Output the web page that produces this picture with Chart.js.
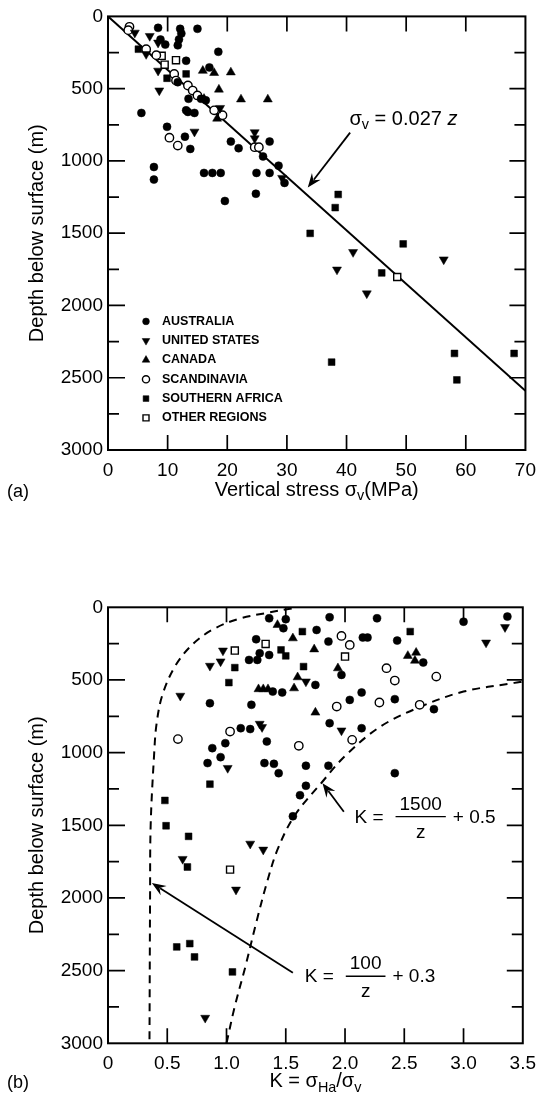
<!DOCTYPE html>
<html>
<head>
<meta charset="utf-8">
<script src="https://cdn.jsdelivr.net/npm/chart.js@4.4.0/dist/chart.umd.min.js"></script>
<style>
  html, body { margin: 0; padding: 0; background: #fff; }
  #page { position: relative; width: 545px; height: 1114px; overflow: hidden; }
  canvas { position: absolute; left: 0; }
  #chartA { top: 0; }
  #chartB { top: 557px; }
</style>
</head>
<body>
<div id="page">
  <canvas id="chartA" width="545" height="557" style="width:545px;height:557px"></canvas>
  <canvas id="chartB" width="545" height="557" style="width:545px;height:557px"></canvas>
</div>
<script>
const FONT = "'Liberation Sans', Arial, Helvetica, sans-serif";

// ---------- (a) vertical stress vs depth ----------
const stressTicks = [0, 10, 20, 30, 40, 50, 60, 70];
const depthTicks = [0, 500, 1000, 1500, 2000, 2500, 3000];
const depthTickLabels = ['0', '500', '1000', '1500', '2000', '2500', '3000'];

// [sigma_v (MPa), depth (m)]
const australiaA = [
  [8.4, 79], [12.1, 86], [15.0, 86], [12.3, 118], [11.9, 159], [11.7, 200],
  [8.8, 160], [9.6, 195], [18.5, 245], [13.1, 307], [17.0, 353], [11.7, 455],
  [13.5, 570], [15.6, 570], [16.4, 581], [5.6, 668], [13.1, 650], [13.4, 661],
  [14.5, 668], [9.9, 764], [12.9, 832], [13.8, 917], [20.6, 866], [21.9, 912],
  [7.7, 1042], [7.7, 1129], [16.1, 1083], [17.5, 1083], [18.9, 1083], [19.6, 1277],
  [27.1, 866], [26.0, 969], [28.6, 1033], [29.6, 1152], [24.9, 1083], [27.1, 1083], [24.8, 1227]
];
const usA = [
  [4.5, 113], [7.0, 136], [8.4, 182], [6.4, 261], [8.4, 376], [8.6, 513],
  [14.5, 798], [18.8, 634], [24.6, 802], [24.6, 844], [29.2, 1118],
  [41.1, 1631], [38.4, 1752], [43.4, 1917], [56.3, 1682]
];
const canadaA = [
  [15.9, 376], [17.8, 391], [20.6, 387], [18.6, 506], [22.3, 574], [26.8, 574],
  [18.3, 707], [16.1, 570]
];
const scandinaviaA = [
  [3.6, 72], [3.4, 95], [6.4, 227], [8.1, 268], [11.1, 398], [11.4, 444],
  [13.4, 478], [14.2, 513], [15.0, 547], [17.8, 650], [19.2, 684],
  [10.3, 839], [11.7, 894], [24.6, 905], [25.3, 905]
];
const safricaA = [
  [5.1, 227], [9.9, 428], [13.1, 398], [38.6, 1232], [38.1, 1323], [33.9, 1501],
  [49.5, 1574], [45.9, 1775], [58.1, 2332], [68.1, 2332], [58.5, 2515], [37.5, 2392]
];
const otherA = [[9.0, 273], [9.5, 334], [11.4, 303], [48.5, 1803]];

// sigma_v = 0.027 z, end points
const trendStress = [0, 70];
const trendDepth = [0, 2590];

// ---------- (b) K ratio vs depth ----------
const kTicks = [0, 0.5, 1, 1.5, 2, 2.5, 3, 3.5];
const kTickLabels = ['0', '0.5', '1.0', '1.5', '2.0', '2.5', '3.0', '3.5'];

// [K, depth (m)]
const australiaB = [
  [1.36, 76], [1.50, 82], [1.48, 144], [1.25, 220], [1.28, 316], [1.36, 328],
  [1.19, 362], [1.26, 362], [1.39, 580], [1.47, 586], [0.86, 660], [1.21, 671],
  [1.12, 832], [1.20, 838], [1.34, 923], [0.99, 935], [0.88, 969], [0.95, 1031],
  [0.84, 1072], [1.32, 1072], [1.40, 1077], [1.44, 1141], [1.62, 1293], [1.56, 1438],
  [1.87, 69], [2.27, 76], [3.0, 99], [3.37, 64], [1.76, 156], [1.86, 236],
  [2.15, 208], [2.19, 208], [2.44, 229], [1.75, 534], [1.97, 465], [2.14, 586],
  [2.04, 637], [2.42, 632], [2.66, 380], [2.75, 701], [1.87, 797], [2.14, 832],
  [1.67, 1090], [1.86, 1090], [2.42, 1141], [1.67, 1228]
];
const usB = [
  [0.97, 298], [0.95, 373], [0.86, 403], [0.61, 609], [1.28, 802], [1.30, 825],
  [1.01, 1106], [3.35, 137], [3.19, 243], [1.67, 511], [1.97, 848], [0.63, 1732],
  [1.08, 1943], [1.20, 1627], [1.31, 1668], [0.82, 2825]
];
const canadaB = [
  [1.43, 121], [1.56, 213], [1.27, 563], [1.31, 563], [1.35, 563], [1.60, 481],
  [1.57, 557], [1.74, 289], [1.94, 419], [1.75, 724], [2.53, 334], [2.60, 312], [2.59, 367]
];
const scandinaviaB = [
  [0.59, 907], [1.03, 855], [1.61, 953], [1.97, 197], [2.04, 259], [2.35, 419],
  [2.42, 504], [2.77, 477], [1.93, 683], [2.29, 655], [2.63, 671], [2.06, 912]
];
const safricaB = [
  [1.07, 415], [1.02, 518], [1.46, 293], [1.50, 334], [0.86, 1217], [0.48, 1329],
  [1.64, 167], [1.65, 408], [2.55, 167], [0.49, 1503], [0.68, 1576], [0.67, 1787],
  [0.58, 2337], [0.69, 2314], [0.73, 2406], [1.05, 2509]
];
const otherB = [[1.07, 298], [1.33, 252], [2.0, 339], [1.03, 1805]];

// dashed bounds
const lowBoundK = [1.55, 1.33, 1.10, 0.89, 0.72, 0.57, 0.46, 0.41, 0.39, 0.36, 0.355, 0.35];
const lowBoundZ = [8, 40, 80, 150, 250, 400, 600, 800, 1000, 1500, 2000, 3000];
const highBoundK = [1.0, 1.07, 1.16, 1.25, 1.34, 1.43, 1.57, 1.80, 2.01, 2.30, 2.64, 3.0, 3.43, 3.5];
const highBoundZ = [3000, 2745, 2470, 2172, 1897, 1668, 1439, 1209, 1015, 820, 683, 580, 520, 512];

// marker look for each region
const regions = [
  { name: 'AUSTRALIA', style: 'circle', rot: 0, r: 4, hollow: false },
  { name: 'UNITED STATES', style: 'triangle', rot: 180, r: 5.2, hollow: false },
  { name: 'CANADA', style: 'triangle', rot: 0, r: 5.2, hollow: false },
  { name: 'SCANDINAVIA', style: 'circle', rot: 0, r: 4.2, hollow: true },
  { name: 'SOUTHERN AFRICA', style: 'rect', rot: 0, r: 4.8, hollow: false },
  { name: 'OTHER REGIONS', style: 'rect', rot: 0, r: 5, hollow: true }
];

const toXY = pairs => pairs.map(p => ({ x: p[0], y: p[1] }));
const zipXY = (xs, ys) => xs.map((x, i) => ({ x: x, y: ys[i] }));

function pointSet(reg, pairs) {
  return {
    label: reg.name,
    data: toXY(pairs),
    showLine: false,
    pointStyle: reg.style,
    rotation: reg.rot,
    pointRadius: reg.r,
    pointHoverRadius: reg.r,
    pointBackgroundColor: reg.hollow ? '#fff' : '#000',
    pointBorderColor: '#000',
    pointBorderWidth: reg.hollow ? 1.4 : 0.5,
    order: 0
  };
}

function lineSet(data, dash) {
  return {
    data: data,
    showLine: true,
    borderColor: '#000',
    borderWidth: 2,
    borderDash: dash || [],
    pointRadius: 0,
    tension: dash ? 0.35 : 0,
    fill: false,
    order: 5
  };
}

// ---- drawing helpers ----
function richText(ctx, x, y, parts, size, align) {
  const fontOf = p => (p[1] === 'it' ? 'italic ' : '') + (p[1] === 'sub' ? size * 0.72 : size) + 'px ' + FONT;
  let w = 0;
  parts.forEach(p => { ctx.font = fontOf(p); w += ctx.measureText(p[0]).width; });
  let cx = align === 'center' ? x - w / 2 : x;
  ctx.textAlign = 'left';
  ctx.textBaseline = 'alphabetic';
  parts.forEach(p => {
    ctx.font = fontOf(p);
    ctx.fillText(p[0], cx, p[1] === 'sub' ? y + size * 0.22 : y);
    cx += ctx.measureText(p[0]).width;
  });
}

function arrow(ctx, x0, y0, x1, y1) {
  const a = Math.atan2(y1 - y0, x1 - x0);
  const L = 14, W = 5.5;
  const c = Math.cos(a), s = Math.sin(a);
  ctx.lineWidth = 1.8;
  ctx.beginPath();
  ctx.moveTo(x0, y0);
  ctx.lineTo(x1 - L * 0.7 * c, y1 - L * 0.7 * s);
  ctx.stroke();
  ctx.beginPath();
  ctx.moveTo(x1, y1);
  ctx.lineTo(x1 - L * c + W * s, y1 - L * s - W * c);
  ctx.lineTo(x1 - L * 0.65 * c, y1 - L * 0.65 * s);
  ctx.lineTo(x1 - L * c - W * s, y1 - L * s + W * c);
  ctx.closePath();
  ctx.fill();
}

function fraction(ctx, x, y, num, tail, size) {
  ctx.font = size + 'px ' + FONT;
  ctx.textBaseline = 'alphabetic';
  ctx.textAlign = 'left';
  ctx.fillText('K =', x, y);
  const bx = x + ctx.measureText('K =').width + 12;
  const bw = ctx.measureText(num).width + 8;
  ctx.textAlign = 'center';
  ctx.fillText(num, bx + bw / 2, y - 13);
  ctx.fillText('z', bx + bw / 2, y + 15);
  ctx.lineWidth = 1.3;
  ctx.beginPath();
  ctx.moveTo(bx, y - 6);
  ctx.lineTo(bx + bw, y - 6);
  ctx.stroke();
  ctx.textAlign = 'left';
  ctx.fillText(tail, bx + bw + 7, y);
}

// frame with inward ticks, titles and annotations
const paper = {
  id: 'paper',
  afterDraw(chart, args, o) {
    const { ctx, chartArea: a, scales } = chart;
    const sx = scales.x, sy = scales.y;
    ctx.save();
    ctx.fillStyle = '#000';
    ctx.strokeStyle = '#000';

    ctx.lineWidth = 2;
    ctx.strokeRect(a.left, a.top, a.right - a.left, a.bottom - a.top);

    ctx.lineWidth = 1.7;
    ctx.beginPath();
    o.xTicks.forEach(v => {
      const px = sx.getPixelForValue(v);
      if (px < a.left + 2 || px > a.right - 2) return;
      ctx.moveTo(px, a.bottom); ctx.lineTo(px, a.bottom - 15);
      ctx.moveTo(px, a.top); ctx.lineTo(px, a.top + 15);
    });
    const yMarks = [];
    o.yTicks.forEach((v, i) => {
      yMarks.push([v, 17, 16]);
      if (i < o.yTicks.length - 1) yMarks.push([(v + o.yTicks[i + 1]) / 2, 11, 11]);
    });
    yMarks.forEach(m => {
      const py = sy.getPixelForValue(m[0]);
      if (py < a.top + 2 || py > a.bottom - 2) return;
      ctx.moveTo(a.left, py); ctx.lineTo(a.left + m[1], py);
      ctx.moveTo(a.right, py); ctx.lineTo(a.right - m[2], py);
    });
    ctx.stroke();

    ctx.save();
    ctx.translate(37, (a.top + a.bottom) / 2);
    ctx.rotate(-Math.PI / 2);
    ctx.font = '20px ' + FONT;
    ctx.textAlign = 'center';
    ctx.textBaseline = 'middle';
    ctx.fillText('Depth below surface (m)', 0, 0);
    ctx.restore();
    richText(ctx, (a.left + a.right) / 2, a.bottom + o.titleDy, o.xTitle, 20, 'center');
    ctx.font = '18px ' + FONT;
    ctx.textAlign = 'left';
    ctx.textBaseline = 'alphabetic';
    ctx.fillText(o.panel, 7, a.bottom + o.titleDy + 1);

    if (o.draw) o.draw(ctx, a, sx, sy);
    ctx.restore();
  }
};

function baseOptions(xMax, xTicks, xLabels, padTop, axisH, extra) {
  return {
    responsive: false,
    animation: false,
    events: [],
    layout: { padding: { left: 0, right: 19, top: padTop, bottom: 0 } },
    plugins: { legend: { display: false }, tooltip: { enabled: false }, paper: extra },
    scales: {
      x: {
        type: 'linear', min: 0, max: xMax,
        afterBuildTicks: s => { s.ticks = xTicks.map(v => ({ value: v })); },
        afterFit: s => { s.height = axisH; },
        grid: { display: false, drawTicks: false },
        border: { display: false },
        ticks: {
          padding: 9, color: '#000', maxRotation: 0, autoSkip: false,
          font: { family: FONT, size: 19 },
          callback: (v, i) => xLabels[i]
        }
      },
      y: {
        type: 'linear', min: 0, max: 3000, reverse: true,
        afterBuildTicks: s => { s.ticks = depthTicks.map(v => ({ value: v })); },
        afterFit: s => { s.width = 108; },
        grid: { display: false, drawTicks: false },
        border: { display: false },
        ticks: {
          padding: 5, color: '#000', autoSkip: false,
          font: { family: FONT, size: 19 },
          callback: (v, i) => depthTickLabels[i]
        }
      }
    }
  };
}

function marker(ctx, r, x, y) {
  ctx.fillStyle = r.hollow ? '#fff' : '#000';
  ctx.strokeStyle = '#000';
  ctx.lineWidth = r.hollow ? 1.4 : 0.5;
  Chart.helpers.drawPoint(ctx, {
    pointStyle: r.style, radius: r.r * 0.85, rotation: r.rot,
    borderWidth: r.hollow ? 1.4 : 0.5
  }, x, y);
}

// ---- chart (a) ----
const seriesA = [australiaA, usA, canadaA, scandinaviaA, safricaA, otherA];
new Chart(document.getElementById('chartA'), {
  type: 'scatter',
  plugins: [paper],
  data: {
    datasets: [lineSet(zipXY(trendStress, trendDepth))]
      .concat(regions.map((r, i) => pointSet(r, seriesA[i])))
  },
  options: baseOptions(70, stressTicks, stressTicks.map(String), 13.5, 107, {
    xTicks: stressTicks,
    yTicks: depthTicks,
    xTitle: [['Vertical stress σ'], ['v', 'sub'], ['(MPa)']],
    titleDy: 46,
    panel: '(a)',
    draw(ctx, a, sx, sy) {
      richText(ctx, sx.getPixelForValue(40.5), sy.getPixelForValue(748),
        [['σ'], ['v', 'sub'], [' = 0.027 '], ['z', 'it']], 20, 'left');
      arrow(ctx, sx.getPixelForValue(40.6), sy.getPixelForValue(804),
        sx.getPixelForValue(33.5), sy.getPixelForValue(1184));
      regions.forEach((r, i) => {
        const ly = a.top + 305 + i * 19.3;
        const lx = a.left + 38;
        marker(ctx, r, lx, ly);
        ctx.fillStyle = '#000';
        ctx.font = 'bold 12.5px ' + FONT;
        ctx.textAlign = 'left';
        ctx.textBaseline = 'middle';
        ctx.fillText(r.name, lx + 16, ly);
      });
    }
  })
});

// ---- chart (b) ----
const seriesB = [australiaB, usB, canadaB, scandinaviaB, safricaB, otherB];
new Chart(document.getElementById('chartB'), {
  type: 'scatter',
  plugins: [paper],
  data: {
    datasets: [
      lineSet(zipXY(lowBoundK, lowBoundZ), [8, 6]),
      lineSet(zipXY(highBoundK, highBoundZ), [8, 6])
    ].concat(regions.map((r, i) => pointSet(r, seriesB[i])))
  },
  options: baseOptions(3.5, kTicks, kTickLabels, 50.3, 70.7, {
    xTicks: kTicks,
    yTicks: depthTicks,
    xTitle: [['K = σ'], ['Ha', 'sub'], ['/σ'], ['v', 'sub']],
    titleDy: 44,
    panel: '(b)',
    draw(ctx, a, sx, sy) {
      ctx.fillStyle = '#000';
      ctx.strokeStyle = '#000';
      fraction(ctx, sx.getPixelForValue(2.08), sy.getPixelForValue(1482), '1500', '+ 0.5', 19);
      arrow(ctx, sx.getPixelForValue(1.99), sy.getPixelForValue(1407),
        sx.getPixelForValue(1.81), sy.getPixelForValue(1210));
      fraction(ctx, sx.getPixelForValue(1.66), sy.getPixelForValue(2580), '100', '+ 0.3', 19);
      arrow(ctx, sx.getPixelForValue(1.56), sy.getPixelForValue(2515),
        sx.getPixelForValue(0.37), sy.getPixelForValue(1897));
    }
  })
});
</script>
</body>
</html>
